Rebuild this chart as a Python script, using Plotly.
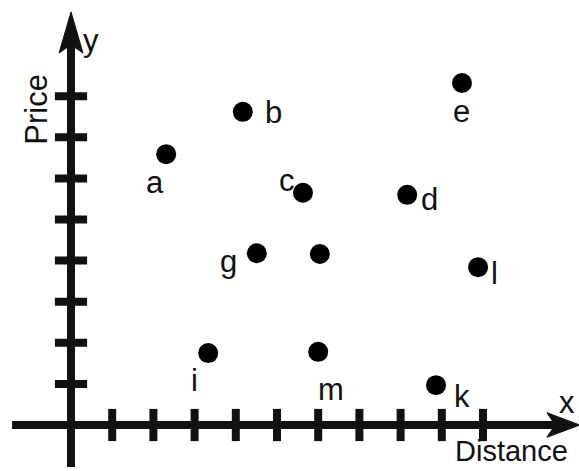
import plotly.graph_objects as go

# Points in the distance/price plane
names = ["a", "b", "c", "d", "e", "g", "", "l", "i", "m", "k"]
distance = [2.31, 4.17, 5.63, 8.16, 9.49, 4.51, 6.04, 9.88, 3.33, 6.00, 8.86]
price = [6.59, 7.62, 5.65, 5.60, 8.32, 4.18, 4.16, 3.84, 1.75, 1.78, 0.97]

# Label offsets from each point, in pixels (right, up)
label_dx = [-11, 31, -16, 22, 0, -28, 0, 16, -14, 13, 26]
label_dy = [-28, -1, 12, -5, -28, -8, 0, -6, -27, -38, -11]

x_ticks = [1, 2, 3, 4, 5, 6, 7, 8, 9, 10]
y_ticks = [1, 2, 3, 4, 5, 6, 7, 8]

# Axis extents (data units)
X_MIN, X_TIP = -1.43, 12.35
Y_MIN, Y_TIP = -1.02, 10.05
X_RANGE = [-71 / 41.2, (579 - 71) / 41.2]
Y_RANGE = [(425 - 471) / 41.1, 425 / 41.1]

# Arrowhead geometry (data units)
Y_HEAD_LEN, Y_HEAD_HALF, Y_NOTCH = 1.0, 0.29, 0.8
X_HEAD_LEN, X_HEAD_HALF, X_NOTCH = 0.8, 0.30, 0.6

FONT = "Liberation Sans, Arial, sans-serif"
INK = "#111111"

fig = go.Figure()

# Axis lines
fig.add_trace(go.Scatter(x=[X_MIN, X_TIP - X_NOTCH], y=[0, 0], mode="lines",
                         line=dict(color=INK, width=8), hoverinfo="skip"))
fig.add_trace(go.Scatter(x=[0, 0], y=[Y_MIN, Y_TIP - Y_NOTCH], mode="lines",
                         line=dict(color=INK, width=8), hoverinfo="skip"))

# Arrowheads
fig.add_trace(go.Scatter(
    x=[X_TIP, X_TIP - X_HEAD_LEN, X_TIP - X_NOTCH, X_TIP - X_HEAD_LEN, X_TIP],
    y=[0, X_HEAD_HALF, 0, -X_HEAD_HALF, 0],
    mode="lines", fill="toself", fillcolor=INK,
    line=dict(color=INK, width=1), hoverinfo="skip"))
fig.add_trace(go.Scatter(
    x=[0, -Y_HEAD_HALF, 0, Y_HEAD_HALF, 0],
    y=[Y_TIP, Y_TIP - Y_HEAD_LEN, Y_TIP - Y_NOTCH, Y_TIP - Y_HEAD_LEN, Y_TIP],
    mode="lines", fill="toself", fillcolor=INK,
    line=dict(color=INK, width=1), hoverinfo="skip"))

# Tick marks crossing the axes
fig.add_trace(go.Scatter(x=x_ticks, y=[0] * len(x_ticks), mode="markers",
                         marker=dict(symbol="line-ns", size=23,
                                     line=dict(color=INK, width=8)),
                         hoverinfo="skip"))
fig.add_trace(go.Scatter(x=[0] * len(y_ticks), y=y_ticks, mode="markers",
                         marker=dict(symbol="line-ew", size=23,
                                     line=dict(color=INK, width=8)),
                         hoverinfo="skip"))

# Data points
fig.add_trace(go.Scatter(x=distance, y=price, mode="markers",
                         marker=dict(color="black", size=20, line=dict(width=0)),
                         text=names, hoverinfo="text+x+y"))

annotations = []
for n, xv, yv, dx, dy in zip(names, distance, price, label_dx, label_dy):
    if not n:
        continue
    annotations.append(dict(x=xv, y=yv, xref="x", yref="y", text=n,
                            showarrow=False, xshift=dx, yshift=dy,
                            font=dict(family=FONT, size=31, color=INK)))

# Axis names
annotations += [
    dict(x=0.48, y=9.35, xref="x", yref="y", text="y", showarrow=False,
         font=dict(family=FONT, size=31, color=INK)),
    dict(x=12.04, y=0.55, xref="x", yref="y", text="x", showarrow=False,
         font=dict(family=FONT, size=31, color=INK)),
    dict(x=-0.83, y=7.69, xref="x", yref="y", text="Price", textangle=-90,
         showarrow=False, font=dict(family=FONT, size=31, color=INK)),
    dict(x=9.28, y=-0.64, xref="x", yref="y", text="Distance", xanchor="left",
         showarrow=False, font=dict(family=FONT, size=29, color=INK)),
]

fig.update_layout(
    width=579, height=471,
    margin=dict(l=0, r=0, t=0, b=0),
    paper_bgcolor="white", plot_bgcolor="white",
    showlegend=False,
    xaxis=dict(range=X_RANGE, visible=False, fixedrange=True),
    yaxis=dict(range=Y_RANGE, visible=False, fixedrange=True),
    annotations=annotations,
)

fig.write_html("out.html")
